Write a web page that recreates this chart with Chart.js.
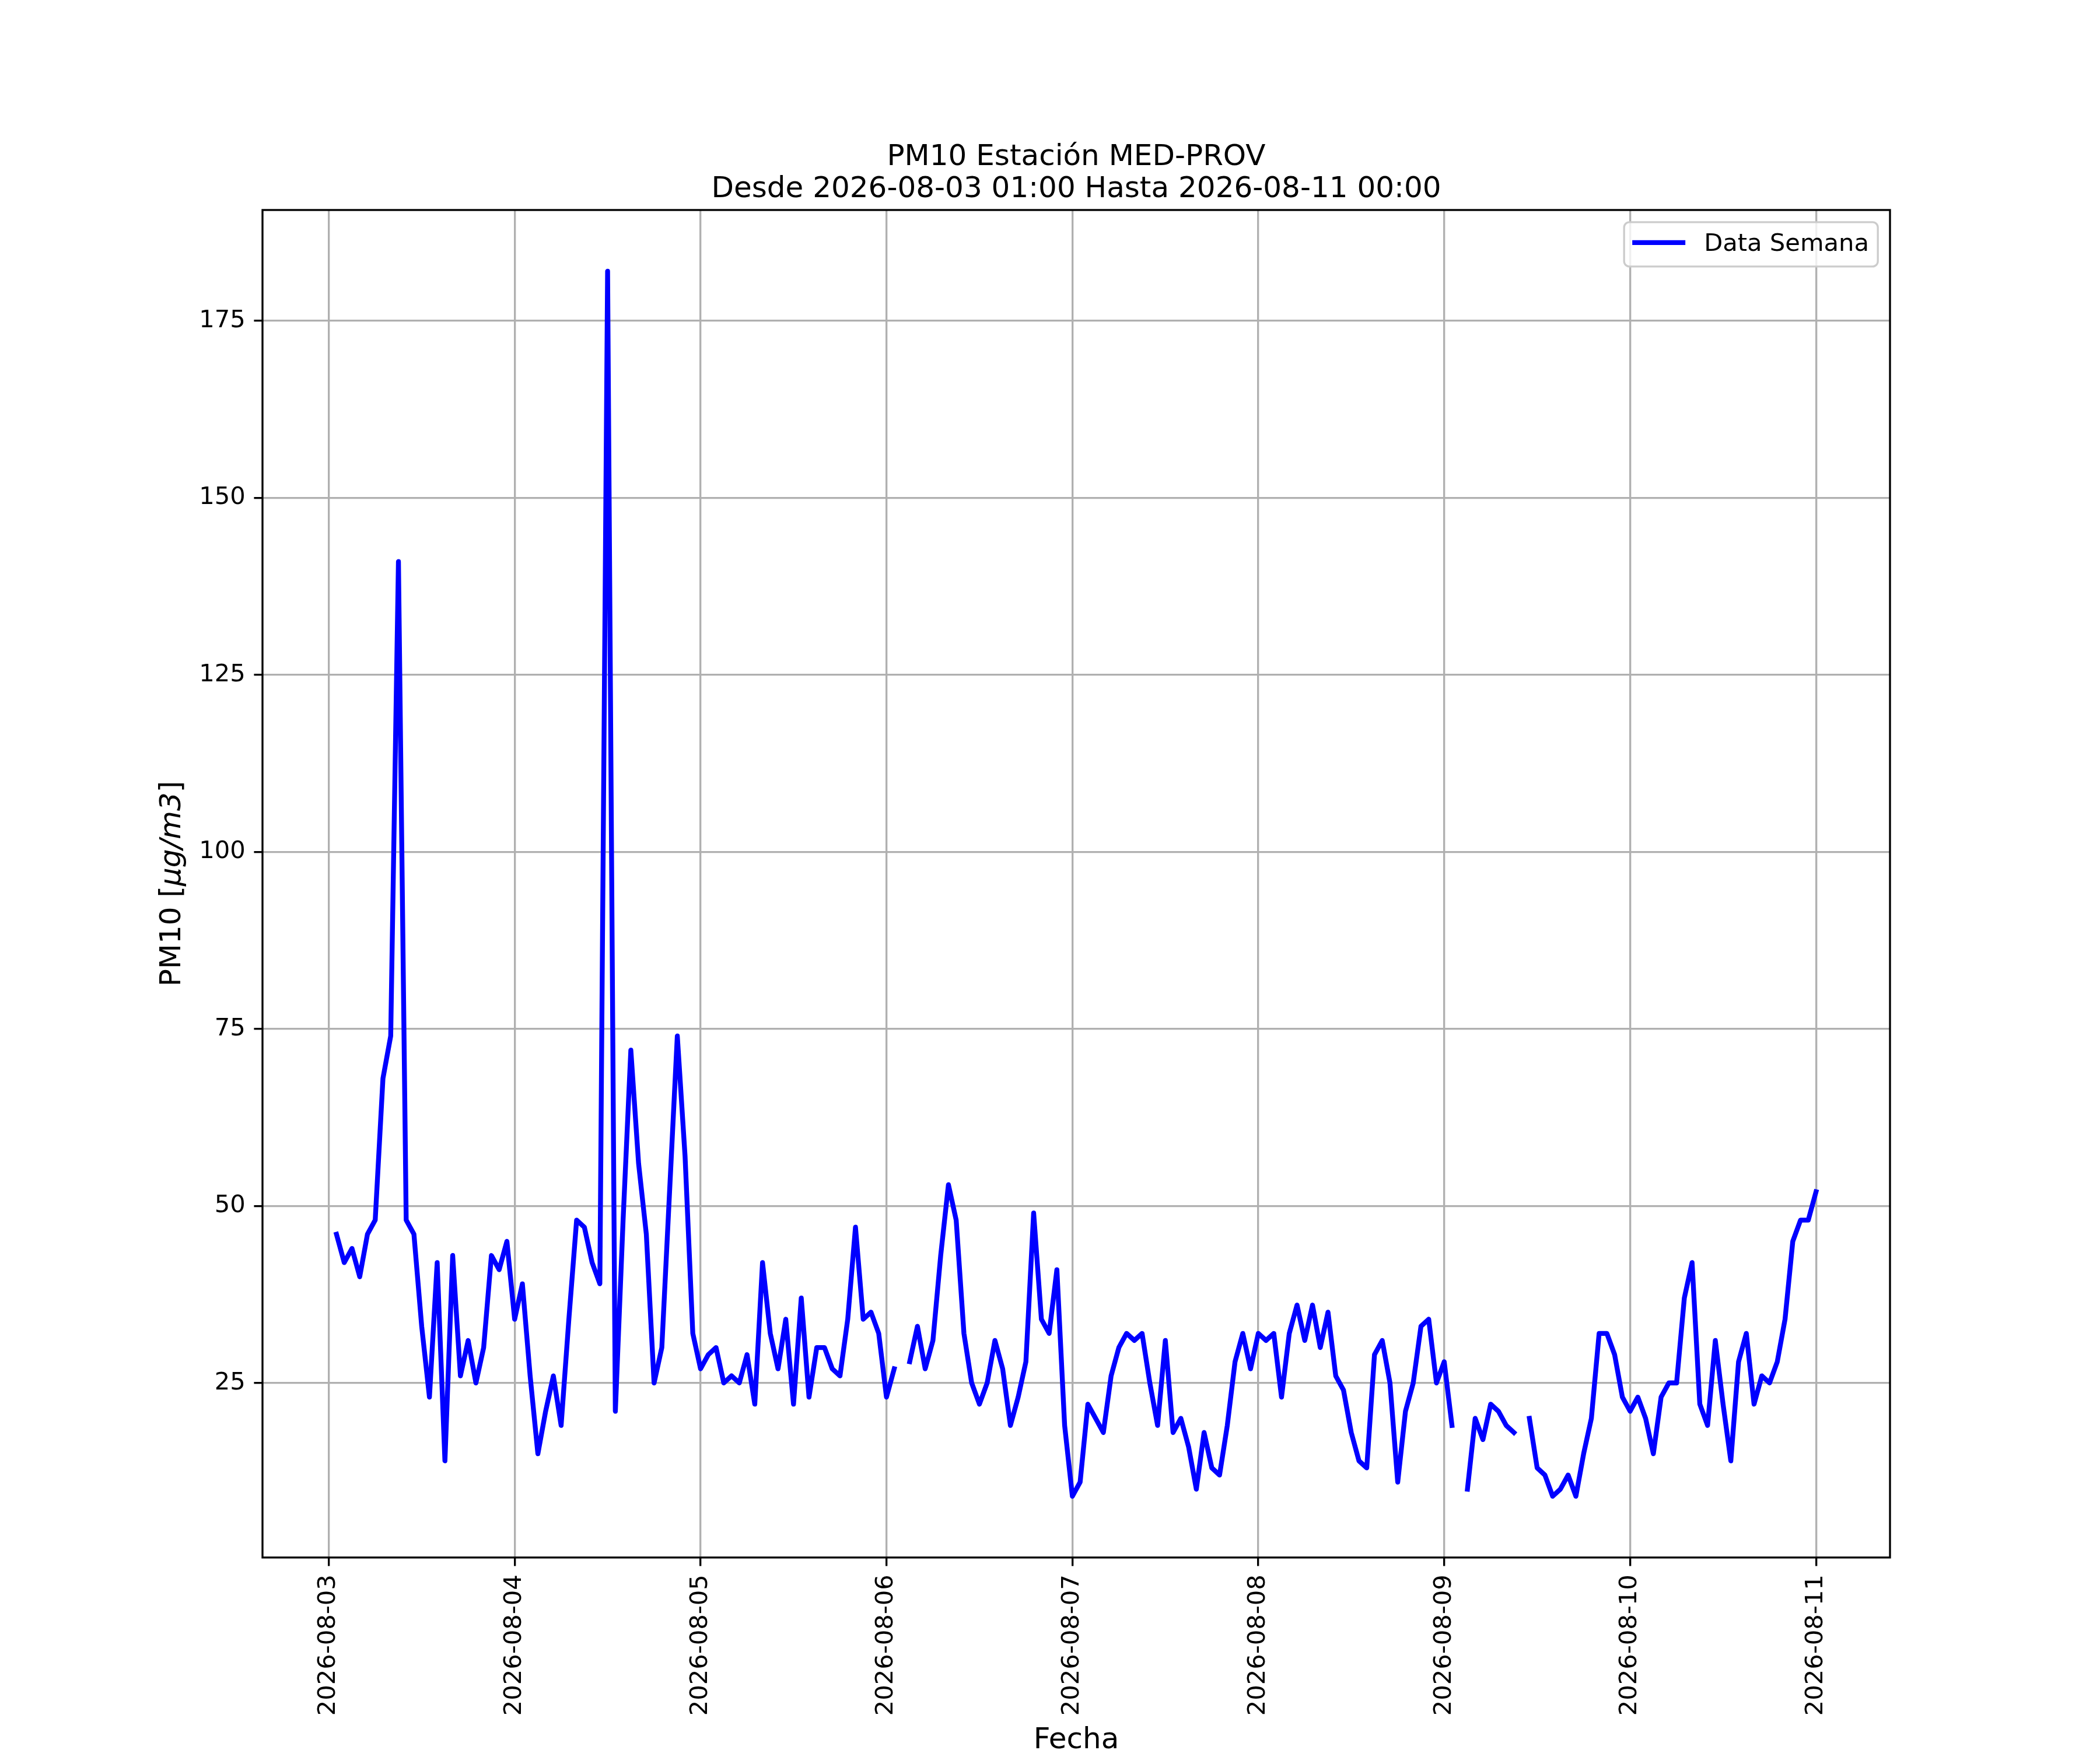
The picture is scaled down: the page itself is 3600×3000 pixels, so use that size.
<!DOCTYPE html>
<html>
<head>
<meta charset="utf-8">
<script src="https://cdn.jsdelivr.net/npm/chart.js@4/dist/chart.umd.min.js"></script>
<style>
  html, body { margin: 0; padding: 0; background: #fff; }
  canvas { display: block; }
</style>
</head>
<body>
<canvas id="chart" width="3600" height="3000" style="width:3600px;height:3000px"></canvas>
<script>
// PM10 horario, primer valor = 2026-08-03 01:00 (hora 1), null = sin dato
const startHour = 1
const pm10 = [
  46, 42, 44, 40, 46, 48, 68, 74, 141, 48, 46, 33, 23, 42, 14, 43, 26, 31, 25, 30, 43, 41, 45, 34,   // 08-03
  39, 26, 15, 21, 26, 19, 34, 48, 47, 42, 39, 182, 21, 48, 72, 56, 46, 25, 30, 52, 74, 57, 32, 27,  // 08-04
  29, 30, 25, 26, 25, 29, 22, 42, 32, 27, 34, 22, 37, 23, 30, 30, 27, 26, 34, 47, 34, 35, 32, 23,   // 08-05
  27, null, 28, 33, 27, 31, 43, 53, 48, 32, 25, 22, 25, 31, 27, 19, 23, 28, 49, 34, 32, 41, 19, 9,  // 08-06
  11, 22, 20, 18, 26, 30, 32, 31, 32, 25, 19, 31, 18, 20, 16, 10, 18, 13, 12, 19, 28, 32, 27, 32,   // 08-07
  31, 32, 23, 32, 36, 31, 36, 30, 35, 26, 24, 18, 14, 13, 29, 31, 25, 11, 21, 25, 33, 34, 25, 28,   // 08-08
  19, null, 10, 20, 17, 22, 21, 19, 18, null, 20, 13, 12, 9, 10, 12, 9, 15, 20, 32, 32, 29, 23, 21, // 08-09
  23, 20, 15, 23, 25, 25, 37, 42, 22, 19, 31, 22, 14, 28, 32, 22, 26, 25, 28, 34, 45, 48, 48, 52    // 08-10
]

const dayLabels = ['2026-08-03', '2026-08-04', '2026-08-05', '2026-08-06', '2026-08-07',
                   '2026-08-08', '2026-08-09', '2026-08-10', '2026-08-11']
const xTicks = [0, 24, 48, 72, 96, 120, 144, 168, 192]
const yTicks = [25, 50, 75, 100, 125, 150, 175]

const serieLabel = 'Data Semana'
const titulo = ['PM10 Estación MED-PROV', 'Desde 2026-08-03 01:00 Hasta 2026-08-11 00:00']

Chart.defaults.font.family = 'DejaVu Sans'
Chart.defaults.color = '#000'

const pt = 300 / 72

// marco de los ejes, etiqueta Y con parte en cursiva y leyenda dentro del gráfico
const extras = {
    id: 'extras',
    afterDraw(chart) {
        const ctx = chart.ctx
        const ca = chart.chartArea
        ctx.save()

        ctx.strokeStyle = '#000'
        ctx.lineWidth = 0.8 * pt
        ctx.strokeRect(ca.left, ca.top, ca.right - ca.left, ca.bottom - ca.top)

        // etiqueta eje Y
        const parts = [
            ['PM10 [', '50px "DejaVu Sans"'],
            ['\u03bcg/m3', 'italic 50px "DejaVu Sans"'],
            [']', '50px "DejaVu Sans"']
        ]
        ctx.translate(296, (ca.top + ca.bottom) / 2)
        ctx.rotate(-Math.PI / 2)
        ctx.fillStyle = '#000'
        ctx.textBaseline = 'middle'
        ctx.textAlign = 'left'
        let total = 0
        parts.forEach(p => { ctx.font = p[1]; total += ctx.measureText(p[0]).width })
        let x = -total / 2
        parts.forEach(p => {
            ctx.font = p[1]
            ctx.fillText(p[0], x, 0)
            x += ctx.measureText(p[0]).width
        })
        ctx.restore()

        // leyenda
        ctx.save()
        const fs = 10 * pt
        const bw = 435, bh = 76
        const bx = ca.right - 0.5 * fs - bw
        const by = ca.top + 0.5 * fs
        ctx.beginPath()
        ctx.roundRect(bx, by, bw, bh, 9)
        ctx.fillStyle = 'rgba(255,255,255,0.8)'
        ctx.fill()
        ctx.strokeStyle = '#cccccc'
        ctx.lineWidth = 0.8 * pt
        ctx.stroke()
        const ds = chart.data.datasets[0]
        ctx.beginPath()
        ctx.moveTo(bx + 14, by + 35)
        ctx.lineTo(bx + 105, by + 35)
        ctx.strokeStyle = ds.borderColor
        ctx.lineWidth = ds.borderWidth
        ctx.stroke()
        ctx.fillStyle = '#000'
        ctx.font = fs + 'px "DejaVu Sans"'
        ctx.textBaseline = 'alphabetic'
        ctx.textAlign = 'left'
        ctx.fillText(ds.label, bx + 137, by + 49)
        ctx.restore()
    }
}

const grid = {
    color: '#b0b0b0',
    lineWidth: 0.8 * pt,
    tickColor: '#000',
    tickWidth: 0.8 * pt,
    tickLength: 3.5 * pt
}

new Chart(document.getElementById('chart'), {
    type: 'line',
    data: {
        datasets: [{
            label: serieLabel,
            data: pm10.map((v, i) => ({ x: startHour + i, y: v })),
            borderColor: '#0000ff',
            borderWidth: 2 * pt,
            pointRadius: 0,
            tension: 0,
            spanGaps: false,
            borderJoinStyle: 'round',
            borderCapStyle: 'square'
        }]
    },
    options: {
        responsive: false,
        devicePixelRatio: 1,
        animation: false,
        layout: { padding: { left: 0, top: 0, right: 360, bottom: 0 } },
        plugins: {
            legend: { display: false },
            tooltip: { enabled: false },
            title: {
                display: true,
                fullSize: false,
                text: titulo,
                color: '#000',
                font: { size: 12 * pt, weight: 'normal', lineHeight: 1.1 },
                padding: { top: 243, bottom: 7 }
            }
        },
        scales: {
            x: {
                type: 'linear',
                min: -8.55,
                max: 201.55,
                afterBuildTicks: s => { s.ticks = xTicks.map(v => ({ value: v })) },
                afterFit: s => { s.height = 330 },
                ticks: {
                    callback: v => dayLabels[v / 24],
                    font: { size: 10 * pt },
                    color: '#000',
                    minRotation: 90,
                    maxRotation: 90,
                    autoSkip: false,
                    padding: 3.5 * pt
                },
                grid: grid,
                border: { display: false },
                title: {
                    display: true,
                    text: 'Fecha',
                    color: '#000',
                    font: { size: 12 * pt, lineHeight: 0.64 },
                    padding: { top: 0, bottom: 0 }
                }
            },
            y: {
                type: 'linear',
                min: 0.35,
                max: 190.65,
                afterBuildTicks: s => { s.ticks = yTicks.map(v => ({ value: v })) },
                afterFit: s => { s.width = 450 },
                ticks: {
                    font: { size: 10 * pt },
                    color: '#000',
                    padding: 3.5 * pt
                },
                grid: grid,
                border: { display: false }
            }
        }
    },
    plugins: [extras]
})
</script>
</body>
</html>
